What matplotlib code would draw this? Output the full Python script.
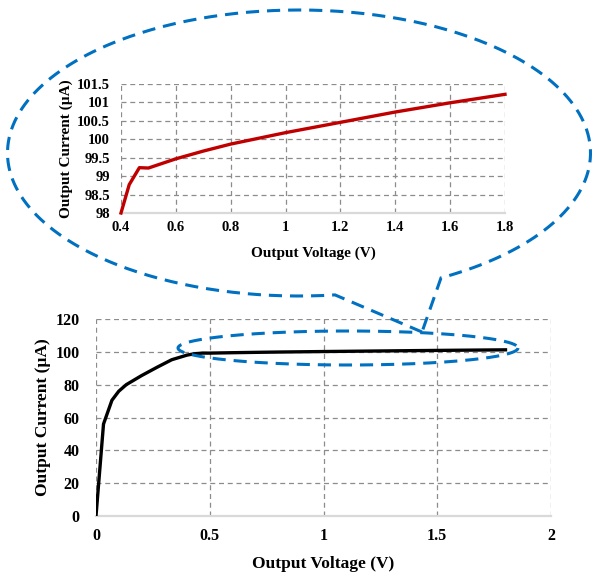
import numpy as np
import matplotlib.pyplot as plt
from matplotlib.path import Path
from matplotlib.patches import PathPatch

plt.rcParams['font.family'] = ['Liberation Serif', 'DejaVu Serif']
plt.rcParams['font.weight'] = 'bold'

# measured I-V curve of the current source
voltage = [0, 0.033, 0.07, 0.1, 0.133, 0.2, 0.267, 0.333, 0.4, 0.43, 0.467,
           0.5, 0.6, 0.7, 0.8, 1.0, 1.2, 1.4, 1.6, 1.8]
current = [0, 56, 70.5, 76, 80, 85.5, 90.5, 95.2, 98.0, 98.77, 99.23,
           99.22, 99.47, 99.68, 99.87, 100.18, 100.46, 100.74, 100.99, 101.22]

main_xticks = [0, 0.5, 1, 1.5, 2]
main_yticks = [0, 20, 40, 60, 80, 100, 120]
zoom_xticks = [0.4, 0.6, 0.8, 1.0, 1.2, 1.4, 1.6, 1.8]
zoom_yticks = [98, 98.5, 99, 99.5, 100, 100.5, 101, 101.5]

W, H = 592, 577
fig = plt.figure(figsize=(W / 100, H / 100), dpi=100)


def px_axes(left, top, right, bottom):
    return fig.add_axes([left / W, 1 - bottom / H, (right - left) / W, (bottom - top) / H])


def style(ax, fs):
    for s in ['left', 'right', 'top']:
        ax.spines[s].set_visible(False)
    ax.spines['bottom'].set_color('#D9D9D9')
    ax.spines['bottom'].set_linewidth(1.6)
    ax.grid(True, color='#8C8C8C', linestyle=(0, (4, 3)), linewidth=0.9)
    ax.set_axisbelow(True)
    ax.tick_params(length=0, labelsize=fs)
    for lab in ax.get_xticklabels() + ax.get_yticklabels():
        lab.set_fontweight('bold')


# main plot
ax = px_axes(96, 319, 551, 516)
ax.plot(voltage, current, color='black', linewidth=2.4, zorder=3)
ax.set_xlim(0, 2)
ax.set_ylim(0, 120)
ax.set_xticks(main_xticks)
ax.set_xticklabels(['0', '0.5', '1', '1.5', '2'])
ax.set_yticks(main_yticks)
style(ax, 11.5)
ax.tick_params(axis='x', pad=9)
ax.tick_params(axis='y', pad=12)
ax.set_xlabel('Output Voltage (V)', fontsize=12.5, fontweight='bold', labelpad=8)
ax.set_ylabel('Output Current (µA)', fontsize=12.5, fontweight='bold', labelpad=3)

# zoomed view of the saturation region
v = np.array(voltage)
i = np.array(current)
sel = v >= 0.4
axz = px_axes(121, 84, 505, 213)
axz.plot(v[sel], i[sel], color='#C00000', linewidth=2.4, zorder=3, clip_on=False)
axz.set_xlim(0.4, 1.8)
axz.set_ylim(98, 101.5)
axz.set_xticks(zoom_xticks)
axz.set_xticklabels(['0.4', '0.6', '0.8', '1', '1.2', '1.4', '1.6', '1.8'])
axz.set_yticks(zoom_yticks)
axz.set_yticklabels(['98', '98.5', '99', '99.5', '100', '100.5', '101', '101.5'])
style(axz, 10.5)
axz.tick_params(axis='x', pad=6)
axz.tick_params(axis='y', pad=8)
axz.set_xlabel('Output Voltage (V)', fontsize=11, fontweight='bold', labelpad=9)
axz.set_ylabel('Output Current (µA)', fontsize=11, fontweight='bold', labelpad=3)

# callout: big bubble with a tail pointing to the small ellipse
ov = fig.add_axes([0, 0, 1, 1])
ov.set_xlim(0, W)
ov.set_ylim(H, 0)
ov.axis('off')
ov.patch.set_visible(False)

blue = '#0070C0'
dash = (0, (4.3, 2.6))

cx, cy, a, b = 299, 153, 291.5, 143
t0 = np.arccos((335 - cx) / a)
t1 = np.arccos((441 - cx) / a) + 2 * np.pi
t = np.linspace(t0, t1, 400)
bx = np.concatenate([[422], cx + a * np.cos(t), [422]])
by = np.concatenate([[332], cy + b * np.sin(t), [332]])
ov.add_patch(PathPatch(Path(np.column_stack([bx, by])), fill=False,
                       edgecolor=blue, linewidth=2.2, linestyle=dash))

s = np.linspace(0, 2 * np.pi, 300)
ov.plot(348 + 170 * np.cos(s), 348 + 17 * np.sin(s), color=blue,
        linewidth=2.2, linestyle=dash)

fig.savefig('out.png', dpi=100)
